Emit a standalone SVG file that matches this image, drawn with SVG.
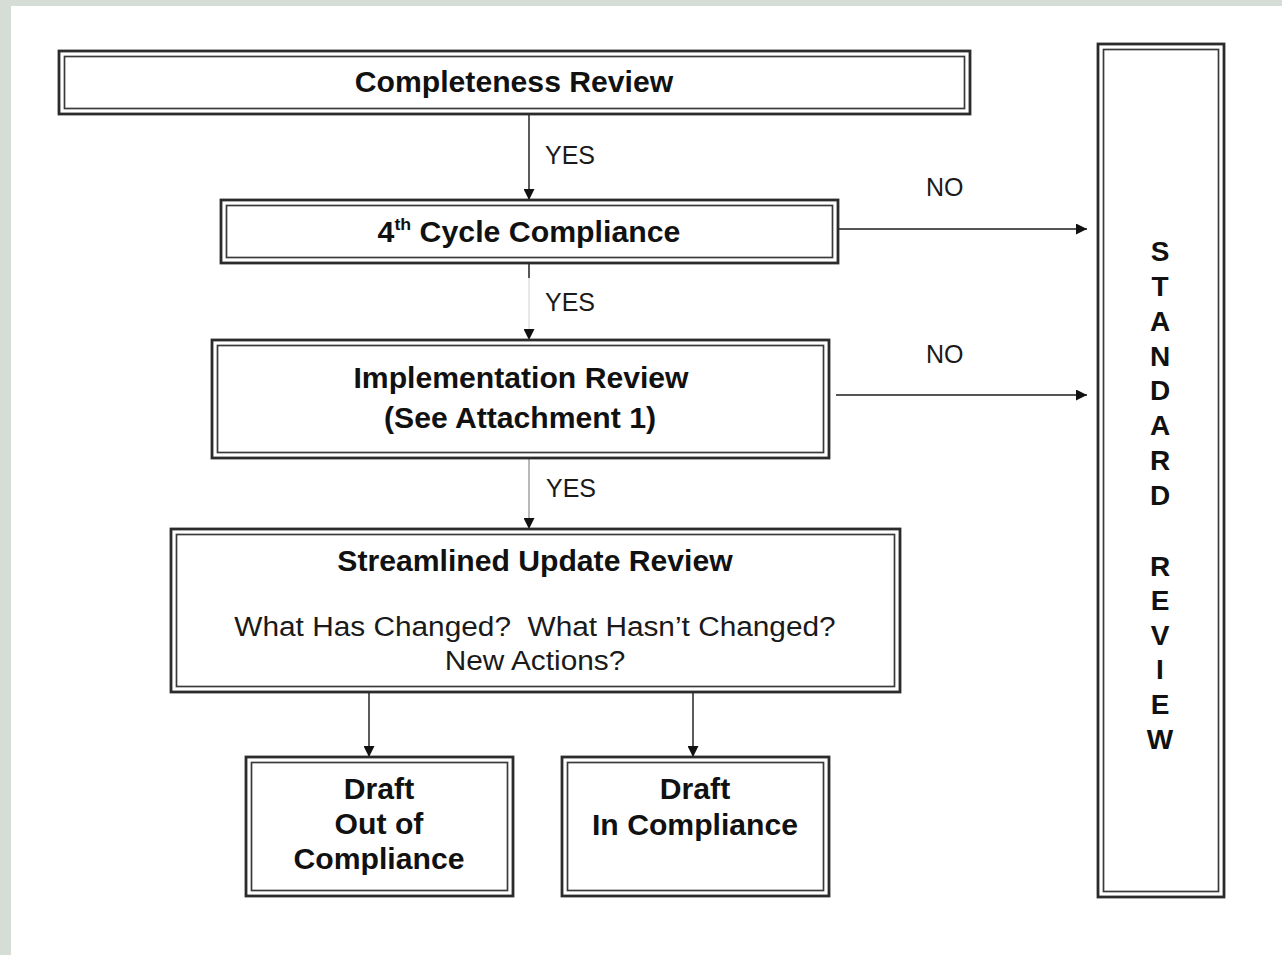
<svg xmlns="http://www.w3.org/2000/svg" width="1282" height="955" viewBox="0 0 1282 955">
<defs>
<style>
.o{fill:none;stroke:#2b2b2b;stroke-width:2.8}
.i{fill:none;stroke:#3a3a3a;stroke-width:1.7}
.b{font-family:"Liberation Sans",Arial,sans-serif;font-weight:bold;font-size:29px;fill:#111;text-anchor:middle}
.r{font-family:"Liberation Sans",Arial,sans-serif;font-size:28px;fill:#1a1a1a;text-anchor:middle;white-space:pre}
.l{font-family:"Liberation Sans",Arial,sans-serif;font-size:25px;fill:#1a1a1a}
.v{font-family:"Liberation Sans",Arial,sans-serif;font-weight:bold;font-size:28px;fill:#111;text-anchor:middle}
.c{fill:none;stroke:#333;stroke-width:1.6}
</style>
<marker id="ah" viewBox="0 0 10 10" refX="10" refY="5" markerWidth="11" markerHeight="11" markerUnits="userSpaceOnUse" orient="auto">
<path d="M0,0 L10,5 L0,10 Z" fill="#111"/>
</marker>
</defs>
<rect x="0" y="0" width="1282" height="955" fill="#d4ded7"/>
<rect x="11" y="6" width="1271" height="949" fill="#ffffff"/>

<g id="connectors">
<line class="c" x1="529" y1="114" x2="529" y2="200" marker-end="url(#ah)"/>
<line x1="529" y1="263" x2="529" y2="332" stroke="#d0d0d0" stroke-width="1"/>
<line class="c" x1="529" y1="263" x2="529" y2="278"/>
<path d="M529,330 L529,340" stroke="#d0d0d0" stroke-width="1" fill="none" marker-end="url(#ah)"/>
<line x1="529" y1="458" x2="529" y2="529" stroke="#8a8a8a" stroke-width="1.2" marker-end="url(#ah)"/>
<line class="c" x1="369" y1="692" x2="369" y2="757" marker-end="url(#ah)"/>
<line class="c" x1="693" y1="692" x2="693" y2="757" marker-end="url(#ah)"/>
<line x1="838" y1="229" x2="1087" y2="229" stroke="#555" stroke-width="2" marker-end="url(#ah)"/>
<line x1="836" y1="395" x2="1087" y2="395" stroke="#555" stroke-width="2" marker-end="url(#ah)"/>
<text class="l" x="545" y="164">YES</text>
<text class="l" x="545" y="311">YES</text>
<text class="l" x="546" y="497">YES</text>
<text class="l" x="926" y="196">NO</text>
<text class="l" x="926" y="363">NO</text>
</g>

<g id="completeness-review">
<rect class="o" x="59" y="51" width="911" height="63"/>
<rect class="i" x="64.5" y="56.5" width="900" height="52"/>
<text class="b" transform="matrix(1.04 0 0 1 514 92)">Completeness Review</text>
</g>

<g id="cycle-compliance">
<rect class="o" x="221" y="200" width="617" height="63"/>
<rect class="i" x="226.5" y="205.5" width="606" height="52"/>
<text class="b" transform="matrix(1.045 0 0 1 529 242)">4<tspan font-size="17" dy="-12">th</tspan><tspan dy="12"> Cycle Compliance</tspan></text>
</g>

<g id="implementation-review">
<rect class="o" x="212" y="340" width="617" height="118"/>
<rect class="i" x="217.5" y="345.5" width="606" height="107"/>
<text class="b" transform="matrix(1.04 0 0 1 521 388)">Implementation Review</text>
<text class="b" transform="matrix(1.04 0 0 1 520 428)">(See Attachment 1)</text>
</g>

<g id="streamlined-update-review">
<rect class="o" x="171" y="529" width="729" height="163"/>
<rect class="i" x="176.5" y="534.5" width="718" height="152"/>
<text class="b" transform="matrix(1.04 0 0 1 535 571)">Streamlined Update Review</text>
<text class="r" xml:space="preserve" transform="matrix(1.065 0 0 1 535 636)">What Has Changed?  What Hasn’t Changed?</text>
<text class="r" transform="matrix(1.065 0 0 1 535 670)">New Actions?</text>
</g>

<g id="draft-out-of-compliance">
<rect class="o" x="246" y="757" width="267" height="139"/>
<rect class="i" x="251.5" y="762.5" width="256" height="128"/>
<text class="b" transform="matrix(1.04 0 0 1 379 799)">Draft</text>
<text class="b" transform="matrix(1.04 0 0 1 379 834)">Out of</text>
<text class="b" transform="matrix(1.04 0 0 1 379 869)">Compliance</text>
</g>

<g id="draft-in-compliance">
<rect class="o" x="562" y="757" width="267" height="139"/>
<rect class="i" x="567.5" y="762.5" width="256" height="128"/>
<text class="b" transform="matrix(1.04 0 0 1 695 799)">Draft</text>
<text class="b" transform="matrix(1.04 0 0 1 695 835)">In Compliance</text>
</g>

<g id="standard-review">
<rect class="o" x="1098" y="44" width="126" height="853"/>
<rect class="i" x="1103.5" y="49.5" width="115" height="842"/>
<text class="v" x="1160" y="261">S</text>
<text class="v" x="1160" y="296">T</text>
<text class="v" x="1160" y="331">A</text>
<text class="v" x="1160" y="366">N</text>
<text class="v" x="1160" y="400">D</text>
<text class="v" x="1160" y="435">A</text>
<text class="v" x="1160" y="470">R</text>
<text class="v" x="1160" y="505">D</text>
<text class="v" x="1160" y="576">R</text>
<text class="v" x="1160" y="610">E</text>
<text class="v" x="1160" y="645">V</text>
<text class="v" x="1160" y="679">I</text>
<text class="v" x="1160" y="714">E</text>
<text class="v" x="1160" y="749">W</text>
</g>
</svg>
